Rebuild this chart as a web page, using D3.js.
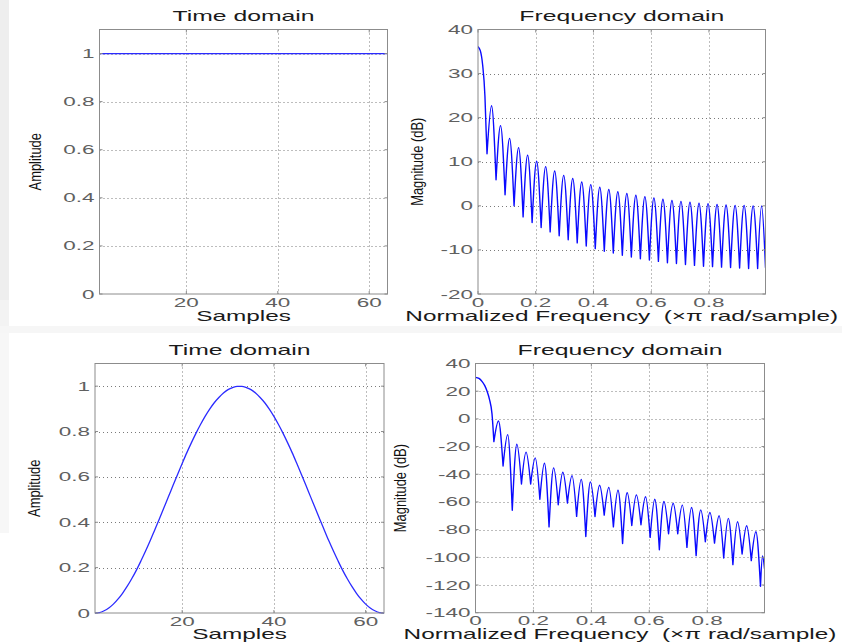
<!DOCTYPE html>
<html>
<head>
<meta charset="utf-8">
<script src="https://cdn.jsdelivr.net/npm/d3@7"></script>
<style>
  html, body { margin: 0; padding: 0; background: #ffffff; }
  svg { display: block; }
  text { font-family: "Liberation Sans", Arial, Helvetica, sans-serif; white-space: pre; }
</style>
</head>
<body>
<div id="chart"></div>
<script>
// ---- Window samples (64-point windows) ----
const sampleIndex = d3.range(1, 65);
const rectWindow = [
  1,1,1,1,1,1,1,1,1,1,1,1,1,1,1,1,1,1,1,1,1,1,1,1,1,1,1,1,1,1,1,1,
  1,1,1,1,1,1,1,1,1,1,1,1,1,1,1,1,1,1,1,1,1,1,1,1,1,1,1,1,1,1,1,1
];
const hannWindow = [
  0.000,0.002,0.010,0.022,0.039,0.061,0.087,0.117,0.151,0.188,0.229,0.272,0.317,0.365,0.413,0.463,
  0.512,0.562,0.611,0.659,0.706,0.750,0.792,0.831,0.867,0.899,0.927,0.950,0.970,0.985,0.994,0.999,
  0.999,0.994,0.985,0.970,0.950,0.927,0.899,0.867,0.831,0.792,0.750,0.706,0.659,0.611,0.562,0.512,
  0.463,0.413,0.365,0.317,0.272,0.229,0.188,0.151,0.117,0.087,0.061,0.039,0.022,0.010,0.002,0.000
];

// ---- Rectangular window spectrum (dB) ----
const rectMainFreq = [0, 0.008, 0.016, 0.024, 0.028];
const rectMainDb   = [36.1, 35.2, 32.0, 24.9, 17.3];
const rectNullFreq = d3.range(1, 32).map(k => k / 32).concat([0.996]);
const rectNullDb = [
  11.8, 5.9, 2.5, 0.0, -2.5, -3.8, -4.9, -5.9, -6.8, -7.7, -8.4, -9.1, -9.7, -10.3, -10.7, -11.2,
  -11.6, -12.0, -12.3, -12.6, -12.9, -13.1, -13.3, -13.5, -13.7, -13.8, -13.9, -14.0, -14.1, -14.2, -14.2,
  -14.0
];
const rectPeakDb = [
  22.7, 18.2, 15.3, 13.2, 11.5, 10.1, 8.9, 7.9, 6.9, 6.2, 5.4, 4.8, 4.2, 3.7, 3.2, 2.8,
  2.4, 2.1, 1.8, 1.5, 1.2, 1.0, 0.8, 0.6, 0.5, 0.3, 0.2, 0.1, 0.1, 0.0, 0.0
];

// ---- Hann window spectrum (dB) ----
const hannMainFreq = [0, 0.012, 0.023, 0.032, 0.040, 0.048, 0.057];
const hannMainDb   = [30.0, 29.2, 26.9, 24.0, 19.9, 14.3, 3.6];
const hannNullFreq = d3.range(2, 32).map(k => 2 * k / 63).concat([0.998]);
const hannNullDb = [
  -16.4, -34.0, -66.0, -47.0, -47.0, -58.0, -78.0, -62.0, -60.8, -70.4, -85.0, -70.5, -69.5, -78.0, -90.0,
  -77.0, -76.5, -85.6, -94.5, -83.0, -83.0, -92.8, -98.8, -88.7, -89.7, -100.5, -105.3, -97.6, -102.4, -120.9,
  -108.0
];
const hannPeakDb = [
  -1.5, -11.4, -18.3, -24.0, -28.2, -32.0, -35.4, -38.5, -41.0, -43.7, -45.5, -47.9, -49.6, -51.5, -53.4,
  -54.9, -56.3, -58.0, -59.7, -60.9, -62.3, -64.0, -65.7, -67.6, -70.0, -71.9, -74.3, -77.2, -81.5, -99.0
];

// ---- Tick values ----
const timeXTicks = [20, 40, 60];
const timeYTicks = [0, 0.2, 0.4, 0.6, 0.8, 1];
const freqXTicks = [0, 0.2, 0.4, 0.6, 0.8];
const rectDbTicks = [-20, -10, 0, 10, 20, 30, 40];
const hannDbTicks = [-140, -120, -100, -80, -60, -40, -20, 0, 20, 40];

// ---- Labels ----
const titleTime = "Time domain";
const titleFreq = "Frequency domain";
const xLabelTime = "Samples";
const xLabelFreq = "Normalized Frequency  (\u00d7\u03c0 rad/sample)";
const yLabelTime = "Amplitude";
const yLabelFreq = "Magnitude (dB)";

const W = 842, H = 643;
const svg = d3.select("#chart").append("svg").attr("width", W).attr("height", H);

// window frame backdrop
svg.append("rect").attr("x", 0).attr("y", 0).attr("width", W).attr("height", H).attr("fill", "#ffffff");
svg.append("rect").attr("x", 0).attr("y", 0).attr("width", 9).attr("height", 300).attr("fill", "#eeeeee");
svg.append("rect").attr("x", 0).attr("y", 300).attr("width", 9).attr("height", 27).attr("fill", "#f3f3f3");
svg.append("rect").attr("x", 0).attr("y", 326).attr("width", W).attr("height", 7).attr("fill", "#f6f6f6");
svg.append("rect").attr("x", 0).attr("y", 333).attr("width", 9).attr("height", 200).attr("fill", "#f7f7f7");

const fmt = d => String(d);

function wideText(g, x, y, str, opts) {
  return g.append("text")
    .attr("transform", `translate(${x},${y}) scale(${opts.sx || 1},1)`)
    .attr("text-anchor", opts.anchor || "middle")
    .attr("dy", opts.dy || 0)
    .attr("font-size", opts.size)
    .attr("fill", opts.fill || "#222")
    .text(str);
}

let clipCount = 0;
function panel(cfg) {
  const g = svg.append("g");
  const x = d3.scaleLinear().domain(cfg.xDomain).range([cfg.left, cfg.right]);
  const y = d3.scaleLinear().domain(cfg.yDomain).range([cfg.bottom, cfg.top]);
  const [x0, x1] = x.range(), [y0, y1] = [cfg.top, cfg.bottom];

  g.append("rect").attr("x", x0).attr("y", y0).attr("width", x1 - x0).attr("height", y1 - y0)
    .attr("fill", "#ffffff");

  // dotted grid
  const grid = g.append("g").attr("stroke", "#7a7a7a").attr("stroke-width", 1)
    .attr("stroke-dasharray", "1,3").attr("fill", "none");
  cfg.xTicks.forEach(t => {
    const px = Math.round(x(t)) + 0.5;
    if (Math.abs(px - x0) < 2 || Math.abs(px - x1) < 2) return;
    grid.append("line").attr("x1", px).attr("x2", px).attr("y1", y0).attr("y2", y1);
  });
  cfg.yTicks.forEach(t => {
    const py = Math.round(y(t)) + 0.5;
    if (Math.abs(py - y0) < 2 || Math.abs(py - y1) < 2) return;
    grid.append("line").attr("x1", x0).attr("x2", x1).attr("y1", py).attr("y2", py);
  });

  // data
  const id = "clip" + (clipCount++);
  svg.append("clipPath").attr("id", id).append("rect")
    .attr("x", x0).attr("y", y0 - 1).attr("width", x1 - x0).attr("height", y1 - y0 + 2);
  g.append("path").attr("clip-path", `url(#${id})`)
    .attr("d", cfg.path(x, y))
    .attr("fill", "none").attr("stroke", cfg.color).attr("stroke-width", cfg.width)
    .attr("stroke-linecap", "round").attr("stroke-linejoin", "round");

  // box and inward ticks
  g.append("rect").attr("x", x0).attr("y", y0).attr("width", x1 - x0).attr("height", y1 - y0)
    .attr("fill", "none").attr("stroke", "#8c8c8c").attr("stroke-width", 1);
  const tk = g.append("g").attr("stroke", "#8c8c8c").attr("stroke-width", 1);
  cfg.xTicks.forEach(t => {
    const px = x(t);
    tk.append("line").attr("x1", px).attr("x2", px).attr("y1", y1).attr("y2", y1 - 3);
    tk.append("line").attr("x1", px).attr("x2", px).attr("y1", y0).attr("y2", y0 + 3);
  });
  cfg.yTicks.forEach(t => {
    const py = y(t);
    tk.append("line").attr("x1", x0).attr("x2", x0 + 3).attr("y1", py).attr("y2", py);
    tk.append("line").attr("x1", x1).attr("x2", x1 - 3).attr("y1", py).attr("y2", py);
  });

  // tick labels
  cfg.xTicks.forEach(t => wideText(g, x(t), y1 + 12.5, fmt(t),
    { sx: 1.8, size: 12.5, fill: "#606060" }));
  cfg.yTicks.forEach(t => wideText(g, x0 - 5, y(t), fmt(t),
    { sx: 1.8, size: 12.5, fill: "#606060", anchor: "end", dy: "0.36em" }));

  // titles
  wideText(g, (x0 + x1) / 2, cfg.titleY, cfg.title, { sx: 1.65, size: 15, fill: "#1a1a1a" });
  wideText(g, (x0 + x1) / 2, cfg.xLabelY, cfg.xLabel, { sx: 1.68, size: 14.5, fill: "#1a1a1a" });
  g.append("text")
    .attr("transform", `translate(${cfg.yLabelX},${(y0 + y1) / 2}) rotate(-90) scale(0.76,1)`)
    .attr("text-anchor", "middle").attr("font-size", 17).attr("fill", "#111")
    .text(cfg.yLabel);
}

function timePath(values) {
  return (x, y) => d3.line().x((d, i) => x(sampleIndex[i])).y(d => y(d))
    .curve(d3.curveMonotoneX)(values);
}

function spectrumPath(mainF, mainDb, nullF, nullDb, peakDb) {
  return (x, y) => {
    const line = d3.line().x(d => x(d[0])).y(d => y(d[1])).curve(d3.curveMonotoneX);
    const main = mainF.map((f, i) => [f, mainDb[i]]).concat([[nullF[0], nullDb[0]]]);
    let d = line(main);
    peakDb.forEach((p, i) => {
      const a = [nullF[i], nullDb[i]], b = [nullF[i + 1], nullDb[i + 1]];
      d += line([a, [(a[0] + b[0]) / 2, p], b]);
    });
    return d;
  };
}

// top row: rectangular window
panel({
  left: 99.5, right: 387.5, top: 29.5, bottom: 294,
  xDomain: [1, 64], yDomain: [0, 1.1], xTicks: timeXTicks, yTicks: timeYTicks,
  path: timePath(rectWindow), color: "#2b2bff", width: 1.3,
  title: titleTime, titleY: 21, xLabel: xLabelTime, xLabelY: 321,
  yLabel: yLabelTime, yLabelX: 41
});
panel({
  left: 478, right: 765.5, top: 29.5, bottom: 294,
  xDomain: [0, 0.996], yDomain: [-20, 40], xTicks: freqXTicks, yTicks: rectDbTicks,
  path: spectrumPath(rectMainFreq, rectMainDb, rectNullFreq, rectNullDb, rectPeakDb),
  color: "#0a0aff", width: 1.4,
  title: titleFreq, titleY: 21, xLabel: xLabelFreq, xLabelY: 321,
  yLabel: yLabelFreq, yLabelX: 423
});

// bottom row: Hann window
panel({
  left: 95, right: 384, top: 363.5, bottom: 613,
  xDomain: [1, 64], yDomain: [0, 1.1], xTicks: timeXTicks, yTicks: timeYTicks,
  path: timePath(hannWindow), color: "#2b2bff", width: 1.3,
  title: titleTime, titleY: 355, xLabel: xLabelTime, xLabelY: 639,
  yLabel: yLabelTime, yLabelX: 39.5
});
panel({
  left: 475.5, right: 764.5, top: 363.5, bottom: 612.7,
  xDomain: [0, 0.998], yDomain: [-140, 40], xTicks: freqXTicks, yTicks: hannDbTicks,
  path: spectrumPath(hannMainFreq, hannMainDb, hannNullFreq, hannNullDb, hannPeakDb),
  color: "#0a0aff", width: 1.4,
  title: titleFreq, titleY: 355, xLabel: xLabelFreq, xLabelY: 639,
  yLabel: yLabelFreq, yLabelX: 406
});
</script>
</body>
</html>
